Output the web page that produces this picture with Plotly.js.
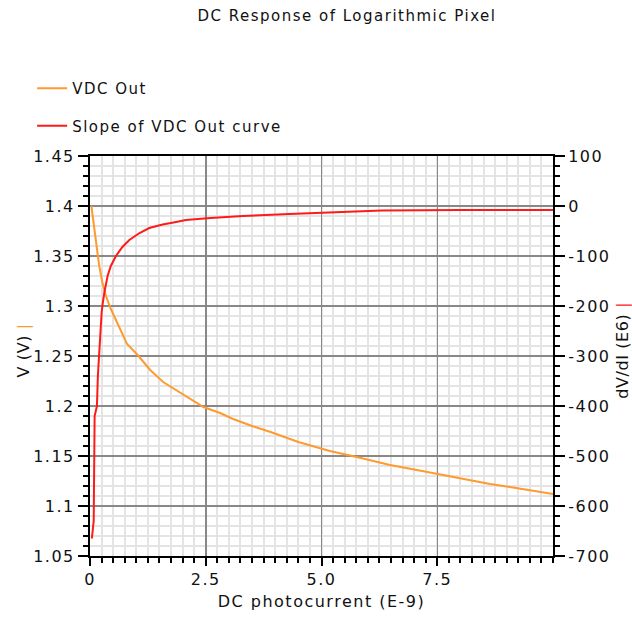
<!DOCTYPE html>
<html>
<head>
<meta charset="utf-8">
<script src="https://cdn.plot.ly/plotly-3.0.1.min.js"></script>
<style>
html,body{margin:0;padding:0;background:#fff;}
#chart{width:632px;height:620px;}
text{letter-spacing:1.5px;}
text.ytitle, text.y2title{letter-spacing:0.6px;}
</style>
</head>
<body>
<div id="chart"></div>
<script>
// DC photocurrent (E-9) for the VDC Out curve
const vdcX = [0.03, 0.05, 0.07, 0.115, 0.165, 0.20, 0.27, 0.345, 0.45, 0.63, 0.80, 1.03, 1.30, 1.58, 1.94, 2.45, 2.81, 3.09, 3.5, 3.9, 4.5, 5.18, 5.76, 6.12, 6.48, 7.06, 7.49, 7.85, 8.21, 8.64, 9.07, 9.50, 10.0];
// VDC Out (V)
const vdcY = [1.400, 1.392, 1.385, 1.370, 1.352, 1.340, 1.323, 1.310, 1.297, 1.279, 1.262, 1.251, 1.236, 1.224, 1.214, 1.199, 1.193, 1.187, 1.180, 1.174, 1.164, 1.155, 1.149, 1.145, 1.141, 1.136, 1.132, 1.129, 1.126, 1.122, 1.119, 1.116, 1.112];
// DC photocurrent (E-9) for the slope curve
const slopeX = [0.04, 0.08, 0.10, 0.15, 0.17, 0.20, 0.22, 0.25, 0.27, 0.31, 0.38, 0.45, 0.56, 0.70, 0.85, 1.07, 1.28, 1.57, 1.86, 2.07, 2.6, 3.3, 4.3, 5.5, 6.3, 8.0, 10.0];
// Slope of VDC Out curve, dV/dI (E6)
const slopeY = [-665, -630, -420, -400, -340, -290, -250, -215, -198, -173, -140, -120, -100, -82, -68, -54, -44, -37, -32, -28, -24, -20, -16, -12, -9, -8, -8];

const xTickVals = [0, 2.5, 5, 7.5];
const xTickText = ["0", "2.5", "5.0", "7.5"];
const yTickVals = [1.05, 1.1, 1.15, 1.2, 1.25, 1.3, 1.35, 1.4, 1.45];
const yTickText = ["1.05", "1.1", "1.15", "1.2", "1.25", "1.3", "1.35", "1.4", "1.45"];
const y2TickVals = [-700, -600, -500, -400, -300, -200, -100, 0, 100];
const y2TickText = ["-700", "-600", "-500", "-400", "-300", "-200", "-100", "0", "100"];

const FONT = "DejaVu Sans, Verdana, sans-serif";
const ORANGE = "#ff9a2e";
const RED = "#ff1a1a";
const TXT = "#111";

const traces = [
  {x: vdcX, y: vdcY, type: "scatter", mode: "lines", name: "VDC Out",
   line: {color: ORANGE, width: 2}, legendgroup: "a", yaxis: "y"},
  {x: slopeX, y: slopeY, type: "scatter", mode: "lines", name: "Slope of VDC Out curve",
   line: {color: RED, width: 2}, legendgroup: "b", yaxis: "y2"}
];

const layout = {
  width: 632, height: 620,
  margin: {l: 90, r: 79, t: 156, b: 64},
  paper_bgcolor: "#fff", plot_bgcolor: "#fff",
  font: {family: FONT, size: 16, color: TXT},
  title: {text: "DC Response of Logarithmic Pixel", font: {family: FONT, size: 15, color: TXT},
          xref: "container", x: 0.549, xanchor: "center", yref: "container", y: 0.974, yanchor: "middle"},
  showlegend: true,
  legend: {x: -0.125, xanchor: "left", y: 1.21, yanchor: "top", bgcolor: "rgba(0,0,0,0)",
           font: {family: FONT, size: 15, color: TXT}, traceorder: "grouped", tracegroupgap: 15},
  xaxis: {
    range: [0, 10], tickmode: "array", tickvals: xTickVals, ticktext: xTickText,
    showline: true, linecolor: "#000", linewidth: 2, mirror: true,
    ticks: "outside", ticklen: 8, tickwidth: 2, tickcolor: "#000",
    showgrid: true, gridcolor: "#888", gridwidth: 1.5, zeroline: false,
    tickfont: {family: FONT, size: 16, color: TXT},
    minor: {dtick: 0.25, showgrid: true, gridcolor: "#e4e4e4", gridwidth: 2,
            ticks: "outside", ticklen: 5, tickwidth: 2, tickcolor: "#000"},
    title: {text: "DC photocurrent (E-9)", font: {family: FONT, size: 16, color: TXT}, standoff: 8}
  },
  yaxis: {
    range: [1.05, 1.45], tickmode: "array", tickvals: yTickVals, ticktext: yTickText,
    showline: true, linecolor: "#000", linewidth: 2,
    ticks: "outside", ticklen: 10, tickwidth: 2, tickcolor: "#000",
    showgrid: true, gridcolor: "#888", gridwidth: 1.5, zeroline: false,
    tickfont: {family: FONT, size: 16, color: TXT},
    minor: {dtick: 0.01, showgrid: true, gridcolor: "#e4e4e4", gridwidth: 2,
            ticks: "outside", ticklen: 5, tickwidth: 2, tickcolor: "#000"},
    title: {text: "&nbsp;&nbsp;V (V) <span style='color:" + ORANGE + "'>|</span>", font: {family: FONT, size: 16, color: TXT}, standoff: 0}
  },
  yaxis2: {
    range: [-700, 100], overlaying: "y", side: "right",
    tickmode: "array", tickvals: y2TickVals, ticktext: y2TickText,
    showline: true, linecolor: "#000", linewidth: 2,
    ticks: "outside", ticklen: 10, tickwidth: 2, tickcolor: "#000",
    showgrid: false, zeroline: false,
    tickfont: {family: FONT, size: 16, color: TXT},
    minor: {dtick: 20, showgrid: false, ticks: "outside", ticklen: 5, tickwidth: 2, tickcolor: "#000"},
    title: {text: "&nbsp;&nbsp;dV/dI (E6) <span style='color:" + RED + "'>|</span>", font: {family: FONT, size: 16, color: TXT}, standoff: 8}
  }
};

Plotly.newPlot("chart", traces, layout, {displayModeBar: false, staticPlot: true});
</script>
</body>
</html>
